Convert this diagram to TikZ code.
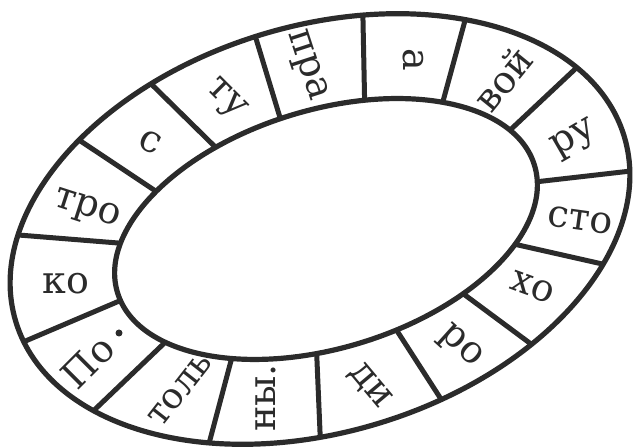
\documentclass[tikz,border=0pt]{standalone}
\usepackage{fontspec}
\setmainfont{DejaVu Serif}
\definecolor{ink}{HTML}{2B2B2B}

\begin{document}
\begin{tikzpicture}[x=0.5pt, y=0.5pt,
      rim/.style={draw=ink, line width=2.6pt},
      cut/.style={draw=ink, line width=2.5pt},
      syl/.style={text=ink, font=\fontsize{19}{21}\selectfont, inner sep=0pt}]
    \useasboundingbox (0,0) rectangle (633,448);
    % outer rim and the outer ends of the cuts
    \begin{scope}[shift={(320,219)}, rotate=17]
      \draw[rim] (0,0) ellipse [x radius=318, y radius=203];
      \foreach \t [count=\i] in {186,156,130,112,91,71,51,23,-10,-35,-58,-78,-101,-122,-148}
        \coordinate (o\i) at (\t:318 and 203);
    \end{scope}
    % inner rim
    \begin{scope}[shift={(326,219)}, rotate=17]
      \draw[rim] (0,0) ellipse [x radius=218, y radius=119];
      \foreach \t [count=\i] in {184,157,134,112,93,70,47,20,-8,-36,-59,-80,-102,-126,-149}
        \coordinate (i\i) at (\t:218 and 119);
    \end{scope}
    \foreach \i in {1,...,15}
      \draw[cut] (i\i) -- (o\i);
    % syllables
    \node[syl, rotate=45] (po) at (88,86) {По};
    \fill[ink] (119,115) circle (3.5);
    \node[syl] (ko) at (66,164) {ко};
    \node[syl, rotate=-18] (tro) at (87,238) {тро};
    \node[syl, rotate=-25] (s) at (150,306) {с};
    \node[syl, rotate=-45] (tu) at (225,348) {ту};
    \node[syl, rotate=-72] (pra) at (306,382) {пра};
    \node[syl, rotate=-90] (a) at (413,388) {а};
    \node[syl, rotate=51] (voj) at (503,369) {вой};
    \node[syl, rotate=30] (ru) at (575,308) {ру};
    \node[syl, rotate=-8] (sto) at (580,228) {сто};
    \node[syl, rotate=-20] (kho) at (533,161) {хо};
    \node[syl, rotate=-42] (ro) at (460,101) {ро};
    \node[syl, rotate=-50] (di) at (370,61) {ди};
    \node[syl, rotate=90] (ny) at (266,50) {ны.};
    \node[syl, rotate=52, font=\fontsize{18}{20}\selectfont] (tol) at (180,58) {толь};
\end{tikzpicture}
\end{document}
